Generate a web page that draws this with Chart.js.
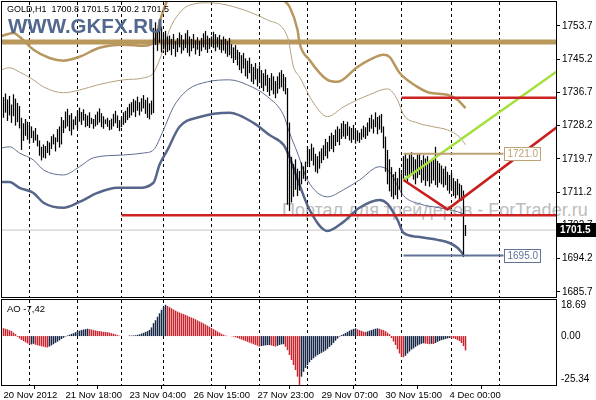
<!DOCTYPE html>
<html>
<head>
<meta charset="utf-8">
<script src="https://cdn.jsdelivr.net/npm/chart.js@4.4.0/dist/chart.umd.min.js"></script>
<style>
html, body { margin: 0; padding: 0; background: #fff; }
#wrap { position: relative; width: 596px; height: 400px; overflow: hidden; background: #fff;
        font-family: "Liberation Sans", Arial, sans-serif; }
canvas { position: absolute; left: 0; z-index: 1; }
#main { top: 0; }
#ao { top: 298px; }
.txt { position: absolute; white-space: nowrap; line-height: 1; pointer-events: none; z-index: 2; }
#hdr { left: 7px; top: 5px; font-size: 9px; color: #000; }
#logo { left: 8px; top: 16px; font-size: 20.5px; font-weight: bold; color: #53688f; }
#wm { left: 282px; top: 201px; font-size: 18px; color: #bdbdbd; z-index: 0; }
#aoLbl { left: 7px; top: 304px; font-size: 9.5px; color: #000; }
</style>
</head>
<body>
<div id="wrap">
  <div class="txt" id="wm">Портал для трейдеров - ForTrader.ru</div>
  <canvas id="main" width="596" height="300"></canvas>
  <canvas id="ao" width="596" height="102"></canvas>
  <div class="txt" id="hdr">GOLD,H1&nbsp;&nbsp;1700.8 1701.5 1700.2 1701.5</div>
  <div class="txt" id="logo">WWW.GKFX.RU</div>
  <div class="txt" id="aoLbl">AO -7,42</div>
</div>
<script>
// ---- data ----
// H1 bars, index 0 = first visible bar
const priceHigh = [
  1735.5,1736.4,1734.9,1735.8,1733.6,1736.2,1735.1,1734.0,1733.2,
  1730.2,
  1728.8,1729.9,1729.2,1728.4,
  1728.0,1726.9,1727.6,1725.9,
  1724.4,1722.8,1723.4,
  1723.0,1724.3,1723.9,1725.5,1726.0,1725.2,1727.3,1728.0,
  1730.4,1729.6,1731.8,1732.5,1730.9,1731.4,1729.8,1730.6,1731.9,
  1732.8,1731.7,1732.4,1731.2,1730.8,1731.6,1730.2,1729.9,1731.0,
  1731.8,1732.6,1731.4,1730.6,1729.8,1730.2,1729.6,
  1730.0,1731.2,1732.0,1730.8,1729.6,1730.4,1731.6,
  1732.0,1732.9,1733.8,1734.2,1735.0,1734.6,
  1735.6,1734.2,1735.2,1736.0,1734.8,1735.4,1733.9,1734.6,
  1753.2,
  1754.6,1752.8,1755.0,1753.5,1751.8,1752.4,1751.0,
  1751.2,1750.4,1751.6,1749.8,1750.6,1752.0,1751.4,1750.2,1751.8,1752.6,
  1751.0,1750.4,1751.6,1750.0,1750.8,1749.9,1750.6,1751.8,1752.4,1751.2,
  1750.6,1751.0,1752.2,1751.6,1750.8,1751.4,1750.2,1751.0,1750.4,1749.8,1750.6,
  1749.0,1748.2,1748.8,1747.6,1747.0,1746.2,1746.8,1745.4,1744.8,1745.6,
  1744.0,1743.2,1744.2,1742.8,1743.6,1742.4,1741.6,1742.6,1741.2,1740.4,
  1741.6,1740.8,1739.6,1740.8,1741.8,1742.4,1741.4,1740.6,
  1737.8,1729.0,
  1720.2,1718.4,1719.6,1717.2,1716.6,1718.8,1717.8,1719.0,
  1723.0,1722.2,1723.6,1722.6,1721.0,1720.4,1721.6,1722.4,1723.2,
  1724.8,1724.0,1725.6,1726.4,1725.8,1727.2,1728.0,1727.4,1728.8,1729.4,
  1728.6,1729.2,1728.0,1727.6,1728.4,1727.2,
  1727.0,1726.4,1727.4,1728.2,1727.8,1729.0,
  1730.2,1731.0,1729.8,1731.6,1730.4,1730.8,1731.2,
  1728.0,1725.4,1722.0,1719.6,1717.6,1715.8,
  1716.4,1714.8,1717.4,1716.0,
  1720.4,1721.2,1719.8,1720.8,1721.4,1720.2,1719.6,1720.8,1721.0,1719.4,
  1720.6,1719.8,1720.4,1718.8,1719.6,1720.0,1722.8,1719.2,1718.6,
  1718.0,1717.2,1717.8,1716.4,1715.6,1716.2,1714.8,1714.0,1714.6,1713.4,
  1713.0,1711.6,1702.8
];
const priceLow = [
  1730.2,1731.5,1729.4,1730.8,1728.9,1730.6,1728.2,1729.1,1727.5,
  1722.0,
  1724.3,1725.6,1724.6,1723.6,
  1725.0,1723.8,1724.4,1722.9,
  1720.5,1719.3,1720.0,
  1719.8,1721.2,1720.6,1722.2,1723.4,1721.6,1724.0,1722.6,
  1723.4,1726.3,1727.5,1728.0,1726.8,1725.7,1727.2,1728.3,1727.4,
  1729.2,1728.4,1729.5,1727.8,1728.1,1727.6,1728.6,1727.4,1728.0,
  1728.4,1729.0,1727.8,1727.4,1728.6,1727.9,1727.0,
  1727.2,1728.0,1728.8,1727.6,1726.8,1727.8,1728.4,
  1728.9,1729.6,1730.2,1730.8,1731.6,1730.4,
  1732.0,1730.8,1731.8,1732.6,1731.2,1730.2,1729.8,1731.0,
  1731.4,
  1748.8,1747.3,1749.4,1746.9,1747.8,1746.2,1747.0,
  1747.4,1746.2,1747.8,1745.8,1747.0,1748.2,1746.6,1747.4,1748.0,1746.8,
  1745.9,1747.2,1748.0,1746.4,1747.6,1746.0,1747.2,1748.2,1747.6,1746.8,
  1747.8,1748.4,1748.0,1747.2,1748.2,1747.6,1746.8,1747.4,1746.6,1745.8,1746.2,
  1745.4,1744.2,1745.0,1743.6,1742.4,1741.6,1742.8,1740.8,1740.2,1741.6,
  1739.4,1738.8,1740.0,1738.2,1739.2,1737.8,1737.0,1738.4,1736.8,1735.8,
  1737.2,1736.2,1735.2,1736.4,1737.6,1738.0,1737.0,1736.2,
  1708.0,1706.4,
  1708.6,1710.0,1711.8,1710.2,1711.6,1713.2,1714.6,1714.0,
  1718.4,1717.6,1719.2,1718.0,1716.4,1716.0,1717.2,1718.6,1719.4,
  1720.4,1719.8,1721.6,1722.2,1721.4,1723.0,1724.0,1723.2,1724.8,1725.4,
  1724.8,1725.6,1724.4,1723.8,1724.6,1723.6,
  1724.2,1723.8,1724.6,1725.2,1724.8,1725.6,
  1726.6,1727.4,1726.2,1727.8,1726.0,1727.2,1726.4,
  1722.4,1716.4,1713.2,1711.4,1710.0,1709.4,
  1710.4,1709.4,1711.8,1710.8,
  1714.6,1715.4,1713.8,1715.0,1716.0,1714.4,1713.2,1714.8,1715.6,1713.6,
  1714.2,1712.8,1714.0,1712.6,1713.4,1714.2,1713.0,1712.4,1713.6,
  1713.2,1712.4,1713.0,1711.6,1710.8,1711.8,1710.2,1709.6,1710.4,1709.0,
  1709.0,1694.6,1700.0
];
// Awesome Oscillator, one value per bar
const aoValues = [
  4.1,3.8,3.5,3.0,2.6,1.8,1.0,
  -0.4,-1.2,-2.0,-2.6,-3.2,-3.8,-4.4,
  -4.3,-4.0,-4.5,
  -4.8,-5.0,-5.3,-5.5,-5.8,-5.9,
  -5.4,-4.8,-4.2,-3.5,-2.9,-2.2,-1.5,-0.9,-0.3,
  0.3,0.7,1.1,1.5,2.0,2.4,2.8,3.1,3.4,3.6,3.8,
  3.6,3.4,3.1,2.9,2.7,2.6,2.4,2.2,2.1,2.0,1.8,1.5,1.2,0.9,0.5,0.2,
  0.1,0.05,0.02,0.0,
  0.3,0.3,0.35,0.4,
  0.6,0.9,1.3,1.7,2.1,2.6,3.2,
  4.5,6.7,8.2,10.0,11.8,13.6,15.0,16.2,
  15.6,15.0,14.4,13.8,13.2,12.7,12.2,11.8,11.4,11.0,10.5,10.0,9.6,9.2,8.7,
  8.1,7.6,7.1,6.6,6.0,5.4,4.8,4.2,3.6,3.0,2.4,1.8,1.2,0.7,
  0.3,0.1,0.0,-0.1,
  -0.3,-0.6,-1.0,-1.4,-1.8,-2.2,-2.6,-3.0,-3.4,-3.8,-4.2,-4.6,-5.0,-5.4,
  -5.2,-5.0,-4.8,-4.7,-4.6,-4.9,-5.2,-5.4,-5.0,-4.6,-4.3,-4.2,
  -5.5,-7.3,-9.8,-12.4,-15.0,-17.6,-21.0,-25.3,
  -21.0,-18.5,-16.5,-15.0,-13.6,-12.4,-11.5,-10.6,-9.9,-9.3,-8.7,-8.1,-7.5,-6.6,-5.6,
  -4.7,-3.6,-2.4,-1.3,-0.3,
  0.5,1.0,1.6,2.2,2.8,3.3,3.7,4.0,
  3.5,3.1,2.7,2.3,2.1,
  2.4,2.8,3.1,3.5,3.8,4.0,
  3.8,3.4,3.1,2.5,1.8,1.0,
  -1.0,-2.8,-4.6,-6.8,-9.0,-10.7,
  -11.0,
  -10.2,-9.0,-8.0,-7.0,-6.4,-5.6,-4.9,-4.4,-4.0,-3.7,
  -3.9,-4.0,-4.2,-4.0,-4.1,-3.6,
  -3.0,-2.5,-2.1,-1.8,-1.5,-1.2,-1.0,
  -1.1,-1.2,-1.5,-2.0,-2.6,-3.6,-5.2,-7.42
];

// envelope lines: [bar, price]
const tanOuter = [[-1,1751.1],[5,1751.9],[8,1750.9],[15,1747.6],[23,1745.5],[30,1744.8],[38,1745.8],
  [48,1748.1],[60,1748.9],[70,1748.6],[76,1750.4],[78,1754.5],[80,1757.8],[82,1760.3],[95,1768],
  [125,1768],[138,1761.6],[140,1760.3],[143,1758.6],[147,1752.7],[148,1749.4],[153,1745.0],
  [162,1739.9],[167,1739.4],[177,1743.2],[183,1745.0],[190,1746.3],[193,1745.8],[198,1741.7],
  [207,1738.1],[213,1736.6],[222,1736.1],[227,1734.8],[231,1732.7]];
const tanInner = [[-1,1742.5],[3,1743.0],[8,1741.9],[15,1739.9],[20,1738.1],[30,1736.6],[38,1737.3],
  [47,1738.6],[60,1739.9],[70,1740.4],[75,1741.7],[78,1745.0],[81,1749.4],[83,1752.7],[88,1757.0],
  [93,1759.0],[103,1759.6],[115,1758.6],[132,1755.2],[142,1750.9],[145,1743.2],[148,1740.7],
  [155,1734.0],[162,1730.5],[170,1733.0],[177,1734.8],[183,1736.1],[192,1737.6],[197,1734.8],
  [200,1731.0],[207,1728.9],[215,1727.9],[222,1727.1],[228,1725.3],[231,1723.3]];
const blueInner = [[-1,1722.5],[3,1722.8],[8,1721.2],[15,1719.4],[20,1716.9],[30,1715.6],[38,1717.7],
  [45,1720.0],[60,1720.7],[70,1721.2],[75,1722.0],[80,1727.1],[85,1733.0],[92,1737.3],[102,1739.4],
  [113,1739.9],[122,1738.6],[132,1735.6],[140,1730.9],[143,1726.4],[147,1721.2],[152,1714.3],
  [162,1710.0],[170,1711.8],[178,1714.3],[188,1717.7],[193,1716.4],[200,1710.3],[208,1708.2],
  [218,1707.2],[227,1706.2],[231,1705.4]];
const blueOuter = [[-1,1713.8],[3,1713.8],[8,1712.3],[15,1711.0],[20,1708.5],[30,1707.2],[38,1708.7],
  [47,1711.0],[57,1712.3],[67,1712.3],[75,1713.6],[78,1718.2],[82,1722.0],[88,1727.9],[98,1730.4],
  [113,1731.5],[125,1728.9],[133,1725.8],[140,1723.3],[143,1720.2],[148,1713.1],[153,1706.7],
  [162,1701.3],[170,1703.6],[178,1707.2],[188,1709.2],[192,1708.2],[197,1704.1],[200,1700.8],
  [207,1699.8],[217,1699.0],[223,1698.2],[227,1697.0],[230,1695.2]];

// horizontal objects: price, first bar, last bar
const levelPrices = [1749.6, 1701.5, 1705.3, 1735.3, 1721.0, 1695.0];
const levelFrom   = [-1, -1, 59, 199, 200, 200];
const levelTo     = [278, 278, 278, 278, 250, 250];
const greenTrend = [[200,1714.3],[277,1742.2]];
const redTrend   = [[200,1714.3],[222,1706.8],[277,1727.9]];

const priceTicks = [1753.7, 1745.2, 1736.7, 1728.2, 1719.7, 1711.2, 1702.7, 1694.2, 1685.7];
const priceRange = [1684.4, 1759.8];
const lastPrice = 1701.5;
const aoTicks = [18.69, 0.00, -25.34];
const barRange = [-0.75, 276.25];
const dayStarts = [13, 37, 59, 80, 104, 128, 152, 176, 199, 224, 248];
const timeTicks = [0, 31, 63, 95, 127, 159, 191, 223];
const timeLabels = ['20 Nov 2012', '21 Nov 18:00', '23 Nov 04:00', '26 Nov 15:00',
                    '27 Nov 23:00', '29 Nov 07:00', '30 Nov 15:00', '4 Dec 00:00'];

// ---- styles ----
const FONT = 'Liberation Sans';
Chart.defaults.font.family = FONT;
const levelStyle = [
  {color: '#b9985c', width: 5, order: 50},
  {color: '#c4c4c4', width: 1, order: 45},
  {color: '#cc2222', width: 2.5, order: 10},
  {color: '#cc2222', width: 2.5, order: 10},
  {color: '#bda276', width: 2, order: 10, box: true},
  {color: '#617295', width: 2, order: 10, box: true}
];
const AO_UP = 'rgb(24,40,72)', AO_DOWN = 'rgb(200,36,44)';

const pts = arr => arr.map(p => ({x: p[0], y: p[1]}));
const lineDs = (data, color, width, order, smooth) => ({
  type: 'line', data: pts(data), borderColor: color, borderWidth: width,
  pointRadius: 0, fill: false, order: order,
  cubicInterpolationMode: smooth ? 'monotone' : 'default', tension: 0
});

const separators = {
  id: 'separators',
  beforeDatasetsDraw(chart) {
    const {ctx, chartArea: a, scales: {x}} = chart;
    ctx.save();
    ctx.strokeStyle = '#000';
    ctx.lineWidth = 1;
    ctx.setLineDash([3, 3]);
    dayStarts.forEach(d => {
      const px = Math.floor(x.getPixelForValue(d)) + 0.5;
      ctx.beginPath();
      ctx.moveTo(px, a.top);
      ctx.lineTo(px, a.bottom);
      ctx.stroke();
    });
    ctx.restore();
  },
  afterDraw(chart) {
    const {ctx, chartArea: a} = chart;
    ctx.save();
    ctx.strokeStyle = '#000';
    ctx.lineWidth = 1;
    ctx.strokeRect(a.left - 0.5, a.top - 0.5, a.right - a.left + 1, a.bottom - a.top + 1);
    ctx.restore();
  }
};

const priceBoxes = {
  id: 'priceBoxes',
  afterDatasetsDraw(chart) {
    const {ctx, scales: {x, y}} = chart;
    ctx.save();
    ctx.font = '10px "' + FONT + '"';
    ctx.textBaseline = 'middle';
    levelPrices.forEach((p, i) => {
      const st = levelStyle[i];
      if (!st.box) return;
      const txt = p.toFixed(1);
      const left = Math.round(x.getPixelForValue(levelTo[i])) + 0.5;
      const cy = Math.round(y.getPixelForValue(p));
      const w = Math.ceil(ctx.measureText(txt).width) + 5;
      ctx.fillStyle = '#fff';
      ctx.fillRect(left, cy - 6.5, w, 13);
      ctx.strokeStyle = st.color;
      ctx.lineWidth = 1;
      ctx.strokeRect(left, cy - 6.5, w, 13);
      ctx.fillStyle = st.color;
      ctx.fillText(txt, left + 3, cy + 0.5);
    });
    ctx.restore();
  },
  afterDraw(chart) {
    const {ctx, chartArea: a, scales: {y}} = chart;
    const cy = Math.round(y.getPixelForValue(lastPrice));
    ctx.save();
    ctx.fillStyle = '#000';
    ctx.fillRect(a.right + 1, cy - 7, 40, 14);
    ctx.fillStyle = '#fff';
    ctx.font = 'bold 10px "' + FONT + '"';
    ctx.textBaseline = 'middle';
    ctx.fillText(lastPrice.toFixed(1), a.right + 4, cy + 0.5);
    ctx.restore();
  }
};

const mainDatasets = [
  {
    type: 'bar',
    data: priceHigh.map((h, i) => ({x: i, y: [priceLow[i], h]})),
    backgroundColor: '#000', borderWidth: 0, barThickness: 1.25,
    inflateAmount: 0, grouped: false, order: 20
  },
  lineDs(tanOuter, '#b8975e', 2.5, 40, true),
  lineDs(tanInner, '#b5a07e', 1, 40, true),
  lineDs(blueInner, '#5f6f8f', 1, 40, true),
  lineDs(blueOuter, '#56668a', 2.5, 40, true),
  lineDs(greenTrend, '#a2e03c', 2.5, 12, false),
  lineDs(redTrend, '#c81e1e', 2.5, 11, false)
];
levelPrices.forEach((p, i) => {
  const st = levelStyle[i];
  mainDatasets.push({
    type: 'line', data: [{x: levelFrom[i], y: p}, {x: levelTo[i], y: p}],
    borderColor: st.color, borderWidth: st.width, pointRadius: 0, fill: false, order: st.order
  });
});

new Chart(document.getElementById('main'), {
  type: 'bar',
  data: {datasets: mainDatasets},
  plugins: [separators, priceBoxes],
  options: {
    responsive: false, animation: false, events: [],
    layout: {padding: {left: 2, top: 2, right: 0, bottom: 3}},
    plugins: {legend: {display: false}, tooltip: {enabled: false}},
    scales: {
      x: {type: 'linear', display: false, offset: false, min: barRange[0], max: barRange[1]},
      y: {
        position: 'right', min: priceRange[0], max: priceRange[1],
        afterBuildTicks: s => { s.ticks = priceTicks.map(v => ({value: v})); },
        afterFit: s => { s.width = 40; s.paddingTop = 0; s.paddingBottom = 0; },
        ticks: {autoSkip: false, padding: 2, color: '#000', font: {size: 10},
                callback: v => Number(v).toFixed(1)},
        grid: {drawOnChartArea: false, drawTicks: true, tickLength: 4, color: '#000'},
        border: {display: false}
      }
    }
  }
});

// ---- AO window: rising bars and falling bars as two series ----
const isUp = i => i > 0 && aoValues[i] > aoValues[i - 1];
const aoUpData = aoValues.map((v, i) => ({x: i, y: isUp(i) ? v : null}));
const aoDownData = aoValues.map((v, i) => ({x: i, y: isUp(i) ? null : v}));

const aoLabels = {
  id: 'aoLabels',
  afterDraw(chart) {
    const {ctx, chartArea: a, scales: {y}} = chart;
    ctx.save();
    ctx.fillStyle = '#000';
    ctx.font = '10px "' + FONT + '"';
    ctx.textBaseline = 'middle';
    aoTicks.forEach(v => {
      const py = Math.min(Math.max(y.getPixelForValue(v), a.top + 5), a.bottom - 6);
      ctx.fillText(v.toFixed(2), a.right + 5, py);
    });
    ctx.restore();
  }
};

new Chart(document.getElementById('ao'), {
  type: 'bar',
  data: {
    datasets: [
      {data: aoUpData, backgroundColor: AO_UP, borderColor: AO_UP, borderWidth: 0,
       barThickness: 1.5, inflateAmount: 0, grouped: false},
      {data: aoDownData, backgroundColor: AO_DOWN, borderColor: AO_DOWN, borderWidth: 0,
       barThickness: 1.5, inflateAmount: 0, grouped: false}
    ]
  },
  plugins: [separators, aoLabels],
  options: {
    responsive: false, animation: false, events: [],
    layout: {padding: {left: 2, top: 2, right: 0, bottom: 0}},
    plugins: {legend: {display: false}, tooltip: {enabled: false}, colors: {enabled: false}},
    scales: {
      x: {
        type: 'linear', offset: false, min: barRange[0], max: barRange[1],
        afterBuildTicks: s => { s.ticks = timeTicks.map(v => ({value: v})); },
        afterFit: s => { s.height = 15; s.paddingLeft = 0; s.paddingRight = 0; },
        ticks: {autoSkip: false, maxRotation: 0, minRotation: 0, align: 'start', padding: 1,
                color: '#000', font: {size: 9.5},
                callback: (v, i) => timeLabels[i]},
        grid: {drawOnChartArea: false, drawTicks: true, tickLength: 4, color: '#000'},
        border: {display: false}
      },
      y: {
        position: 'right', min: aoTicks[2], max: aoTicks[0],
        afterFit: s => { s.width = 40; s.paddingTop = 0; s.paddingBottom = 0; },
        ticks: {display: false},
        grid: {display: false},
        border: {display: false}
      }
    }
  }
});
</script>
</body>
</html>
